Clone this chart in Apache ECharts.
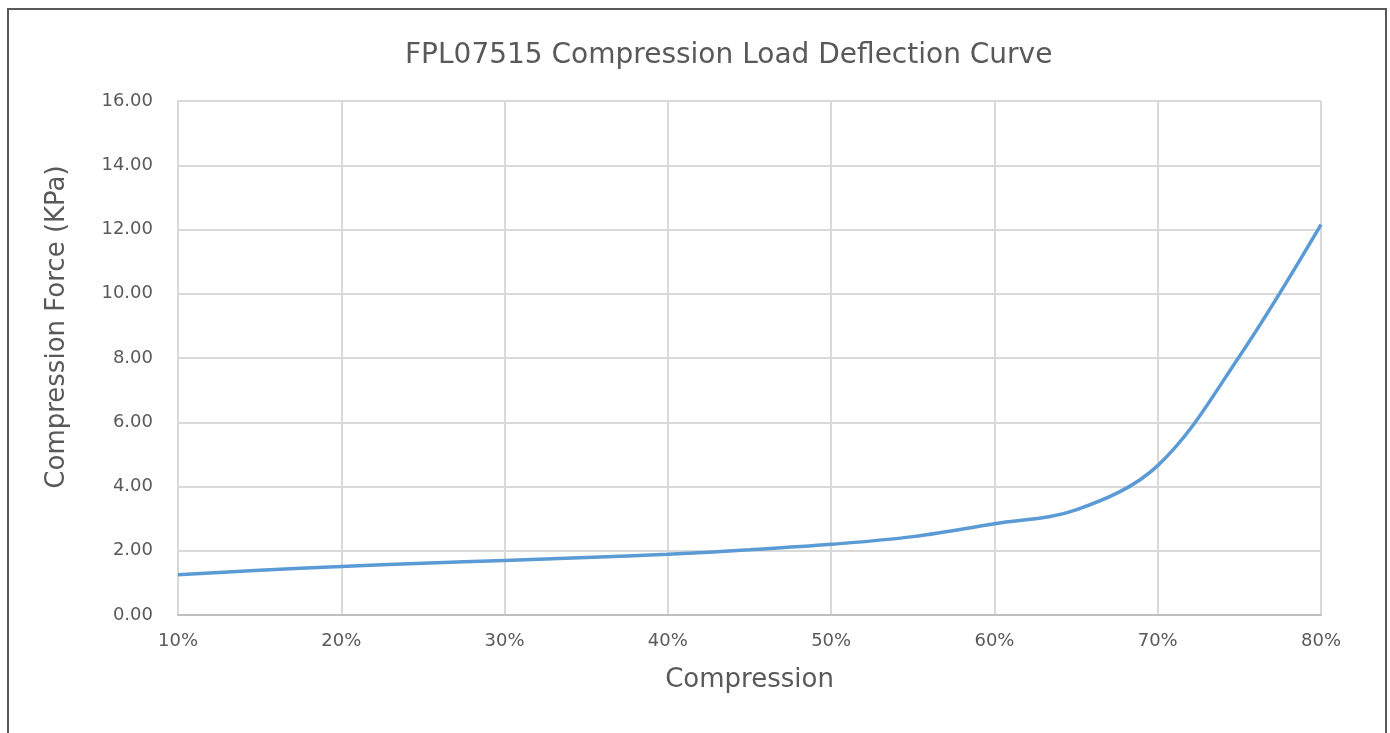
<!DOCTYPE html>
<html>
<head>
<meta charset="UTF-8">
<title>FPL07515</title>
<script src="https://cdn.jsdelivr.net/npm/echarts@6/dist/echarts.min.js"></script>
<style>
	html, body { margin:0; padding:0; background:#fff; }
	#frame { position:absolute; left:7px; top:8px; width:1380px; height:740px; border:2px solid #595959; box-sizing:border-box; }
	#chart { position:absolute; left:0; top:0; width:1390px; height:733px; }
</style>
</head>
<body>
	<div id="frame"></div>
	<div id="chart"></div>

	<script type="text/javascript">
		// compression (%) vs force (KPa)
		var compression = [10, 15, 20, 25, 30, 35, 40, 45, 50, 55, 60, 65, 70, 75, 80];
		var force = [1.25, 1.39, 1.51, 1.61, 1.70, 1.79, 1.89, 2.03, 2.20, 2.44, 2.84, 3.27, 4.65, 8.05, 12.15];
		var yTicks = [0, 2, 4, 6, 8, 10, 12, 14, 16];

		var font = '"DejaVu Sans", sans-serif';
		var points = [];
		for(var i=0; i<compression.length; i++){
			points.push([compression[i], force[i]]);
		}

		var myChart = echarts.init(document.getElementById('chart'));
		var option = {
			backgroundColor: 'transparent',
			animation: false,
			title: {
				text: 'FPL07515 Compression Load Deflection Curve',
				left: 400,
				top: 37,
				textStyle: { fontFamily: font, fontSize: 28, fontWeight: 'normal', color: '#595959' }
			},
			grid: { left: 178, right: 69, top: 101, bottom: 118 },
			xAxis: {
				type: 'value',
				min: 10, max: 80, interval: 10,
				name: 'Compression',
				nameLocation: 'middle',
				nameGap: 52,
				nameTextStyle: { fontFamily: font, fontSize: 26, color: '#595959' },
				axisLine: { lineStyle: { color: '#bfbfbf', width: 2 } },
				axisTick: { show: false },
				axisLabel: { fontFamily: font, fontSize: 18, color: '#595959', margin: 17,
					formatter: '{value}%' },
				splitLine: { show: true, lineStyle: { color: '#d9d9d9', width: 2 } }
			},
			yAxis: {
				type: 'value',
				min: yTicks[0], max: yTicks[yTicks.length-1], interval: 2,
				axisLine: { show: true, lineStyle: { color: '#d9d9d9', width: 2 } },
				axisTick: { show: false },
				axisLabel: { fontFamily: font, fontSize: 18, color: '#595959', margin: 25,
					formatter: function(v){ return v.toFixed(2); } },
				splitLine: { lineStyle: { color: '#d9d9d9', width: 2 } }
			},
			graphic: [{
				type: 'text',
				x: 57, y: 327,
				rotation: Math.PI / 2,
				style: {
					text: 'Compression Force (KPa)',
					font: '26px ' + font,
					fill: '#595959',
					align: 'center',
					verticalAlign: 'middle'
				}
			}],
			series: [{
				type: 'line',
				data: points,
				smooth: 0.35,
				showSymbol: false,
				lineStyle: { color: '#5b9bd5', width: 3.5 }
			}]
		};
		myChart.setOption(option);
	</script>
</body>
</html>
